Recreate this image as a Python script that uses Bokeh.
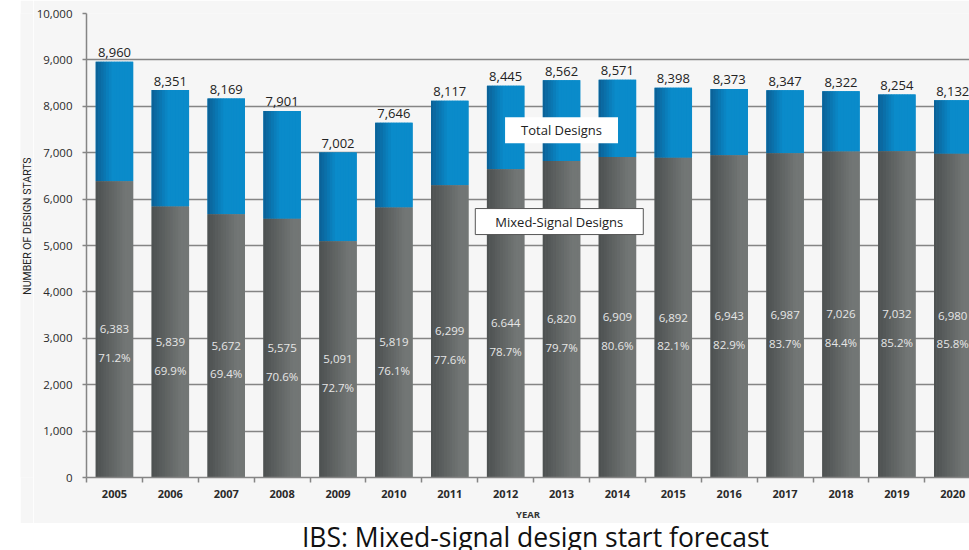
import math
from bokeh.plotting import figure
from bokeh.layouts import column, row
from bokeh.models import (ColumnDataSource, FixedTicker, NumeralTickFormatter,
                          Label, Range1d, Spacer)
from bokeh.transform import dodge
from bokeh.embed import file_html
from bokeh.resources import INLINE
from bokeh.core.properties import value

# ---- data ----
years = ["2005", "2006", "2007", "2008", "2009", "2010", "2011", "2012",
         "2013", "2014", "2015", "2016", "2017", "2018", "2019", "2020"]
total_designs = [8960, 8351, 8169, 7901, 7002, 7646, 8117, 8445,
                 8562, 8571, 8398, 8373, 8347, 8322, 8254, 8132]
mixed_designs = [6383, 5839, 5672, 5575, 5091, 5819, 6299, 6644,
                 6820, 6909, 6892, 6943, 6987, 7026, 7032, 6980]
mixed_labels = ["6,383", "5,839", "5,672", "5,575", "5,091", "5,819", "6,299", "6.644",
                "6,820", "6,909", "6,892", "6,943", "6,987", "7,026", "7,032", "6,980"]
mixed_share = [71.2, 69.9, 69.4, 70.6, 72.7, 76.1, 77.6, 78.7,
               79.7, 80.6, 82.1, 82.9, 83.7, 84.4, 85.2, 85.8]
y_ticks = [0, 1000, 2000, 3000, 4000, 5000, 6000, 7000, 8000, 9000, 10000]

FONT = "Open Sans"
PANEL = "#f6f6f6"
idx = list(range(len(years)))

src = ColumnDataSource(dict(
    x=idx,
    total=total_designs,
    mixed=mixed_designs,
    mid=[m / 2 for m in mixed_designs],
    total_txt=[f"{t:,}" for t in total_designs],
    mixed_txt=mixed_labels,
    pct_txt=[f"{s:.1f}%" for s in mixed_share],
))


def blank(width, height, xr, yr, fill, **kw):
    """A figure without axes, used for free-standing text."""
    f = figure(width=width, height=height, output_backend="svg", toolbar_location=None,
               x_range=xr, y_range=yr, x_axis_type=None, y_axis_type=None,
               outline_line_color=None, min_border_top=0, min_border_bottom=0,
               min_border_right=0, min_border_left=0,
               background_fill_color=fill, border_fill_color=fill, **kw)
    f.grid.visible = False
    return f


# ---- main chart ----
p = figure(width=936, height=523, output_backend="svg", toolbar_location=None,
           x_range=(-0.5, 15.3), y_range=(0, 10000),
           min_border_left=53, min_border_right=0, min_border_top=13,
           min_border_bottom=45, outline_line_color=None,
           background_fill_color=PANEL, border_fill_color=PANEL)

bar_w = 0.67
n_strips = 14


def mix(c1, c2, t):
    a = [int(c1[i:i + 2], 16) for i in (1, 3, 5)]
    b = [int(c2[i:i + 2], 16) for i in (1, 3, 5)]
    return "#" + "".join(f"{round(a[j] + (b[j] - a[j]) * t):02x}" for j in range(3))


blue_dark, blue_main = "#0b5f94", "#0a8bca"
gray_dark, gray_main = "#4c5050", "#727675"

p.vbar(x="x", width=bar_w, bottom="mixed", top="total", source=src,
       fill_color=blue_main, line_color=None)
p.vbar(x="x", width=bar_w, bottom=0, top="mixed", source=src,
       fill_color=gray_main, line_color=None)

# narrow strips give each bar a darker left edge
for k in range(n_strips):
    pos = (k + 0.5) / n_strips
    off = -bar_w / 2 + pos * bar_w
    sw = bar_w / n_strips * (1.0 if k in (0, n_strips - 1) else 1.2)
    p.vbar(x=dodge("x", off), width=sw, bottom="mixed", top="total", source=src,
           fill_color=mix(blue_dark, blue_main, min(1.0, pos / 0.45)), line_color=None)
    p.vbar(x=dodge("x", off), width=sw, bottom=0, top="mixed", source=src,
           fill_color=mix(gray_dark, gray_main, min(1.0, pos / 0.8)), line_color=None)

# ---- value labels ----
p.text(x="x", y="total", text="total_txt", source=src, y_offset=-9,
       text_align="center", text_baseline="alphabetic",
       text_font=value(FONT), text_font_size="13px", text_color="#222222")
p.text(x="x", y="mid", text="mixed_txt", source=src,
       text_align="center", text_baseline="middle",
       text_font=value(FONT), text_font_size="11.5px", text_color="#e6e6e6")
p.text(x="x", y="mid", text="pct_txt", source=src, y_offset=28,
       text_align="center", text_baseline="middle",
       text_font=value(FONT), text_font_size="11.5px", text_color="#e6e6e6")

# ---- axes & grid ----
grid_col = "#858585"
p.xgrid.grid_line_color = None
p.ygrid.ticker = FixedTicker(ticks=y_ticks)
p.ygrid.grid_line_color = grid_col
p.ygrid.grid_line_width = 1.5

xa = p.xaxis[0]
xa.ticker = FixedTicker(ticks=idx, minor_ticks=[i - 0.5 for i in idx] + [len(idx) - 0.5])
xa.major_label_overrides = {i: y for i, y in enumerate(years)}
xa.major_tick_out = 0
xa.major_tick_in = 0
xa.minor_tick_out = 5
xa.minor_tick_in = 0
xa.minor_tick_line_color = grid_col
xa.minor_tick_line_width = 1.5
xa.axis_line_color = grid_col
xa.axis_line_width = 1.5
xa.major_label_standoff = 7
xa.major_label_text_font = FONT
xa.major_label_text_font_size = "11px"
xa.major_label_text_color = "#2a2a2a"
xa.major_label_text_font_style = "bold"
xa.axis_label = "YEAR"
xa.axis_label_standoff = 7
xa.axis_label_text_font = FONT
xa.axis_label_text_font_size = "9.5px"
xa.axis_label_text_font_style = "bold"
xa.axis_label_text_color = "#333333"

ya = p.yaxis[0]
ya.ticker = FixedTicker(ticks=y_ticks)
ya.formatter = NumeralTickFormatter(format="0,0")
ya.major_tick_out = 4
ya.major_tick_in = 0
ya.minor_tick_line_color = None
ya.major_tick_line_color = grid_col
ya.major_tick_line_width = 1.5
ya.axis_line_color = grid_col
ya.axis_line_width = 1.5
ya.major_label_standoff = 10
ya.major_label_text_font = FONT
ya.major_label_text_font_size = "11.5px"
ya.major_label_text_color = "#2a2a2a"

# ---- legend boxes ----
p.add_layout(Label(x=8.0, y=7484, text="Total Designs",
                   text_align="center", text_baseline="middle",
                   text_font=FONT, text_font_size="13px", text_color="#222222",
                   background_fill_color="white", border_line_color=None,
                   padding=(16, 4)))
p.add_layout(Label(x=7.96, y=5516, text="Mixed-Signal Designs",
                   text_align="center", text_baseline="middle",
                   text_font=FONT, text_font_size="13px", text_color="#222222",
                   background_fill_color="white", border_line_color="#555555",
                   border_line_width=1, padding=(20, 4)))

# ---- vertical axis title strip (its frame lines up with the chart frame,
#      so the ranges below are page pixels) ----
side = blank(13, 523, Range1d(20, 33), Range1d(478, 13), PANEL)
side.add_layout(Label(x=27, y=226, text="NUMBER OF DESIGN STARTS", angle=math.pi / 2,
                      text_align="center", text_baseline="middle",
                      text_font="Roboto", text_font_size="10.5px", text_color="#222222"))

# ---- caption (ranges are page pixels) ----
cap = blank(969, 27, Range1d(0, 969), Range1d(550, 523), "white")
cap.add_layout(Label(x=535, y=536, text="IBS: Mixed-signal design start forecast",
                     text_align="center", text_baseline="alphabetic",
                     text_font=FONT, text_font_size="26.5px", text_color="#111111"))

layout = column(row(Spacer(width=20, height=523), side, p), cap)

open("out.html", "w").write(file_html(layout, INLINE))
